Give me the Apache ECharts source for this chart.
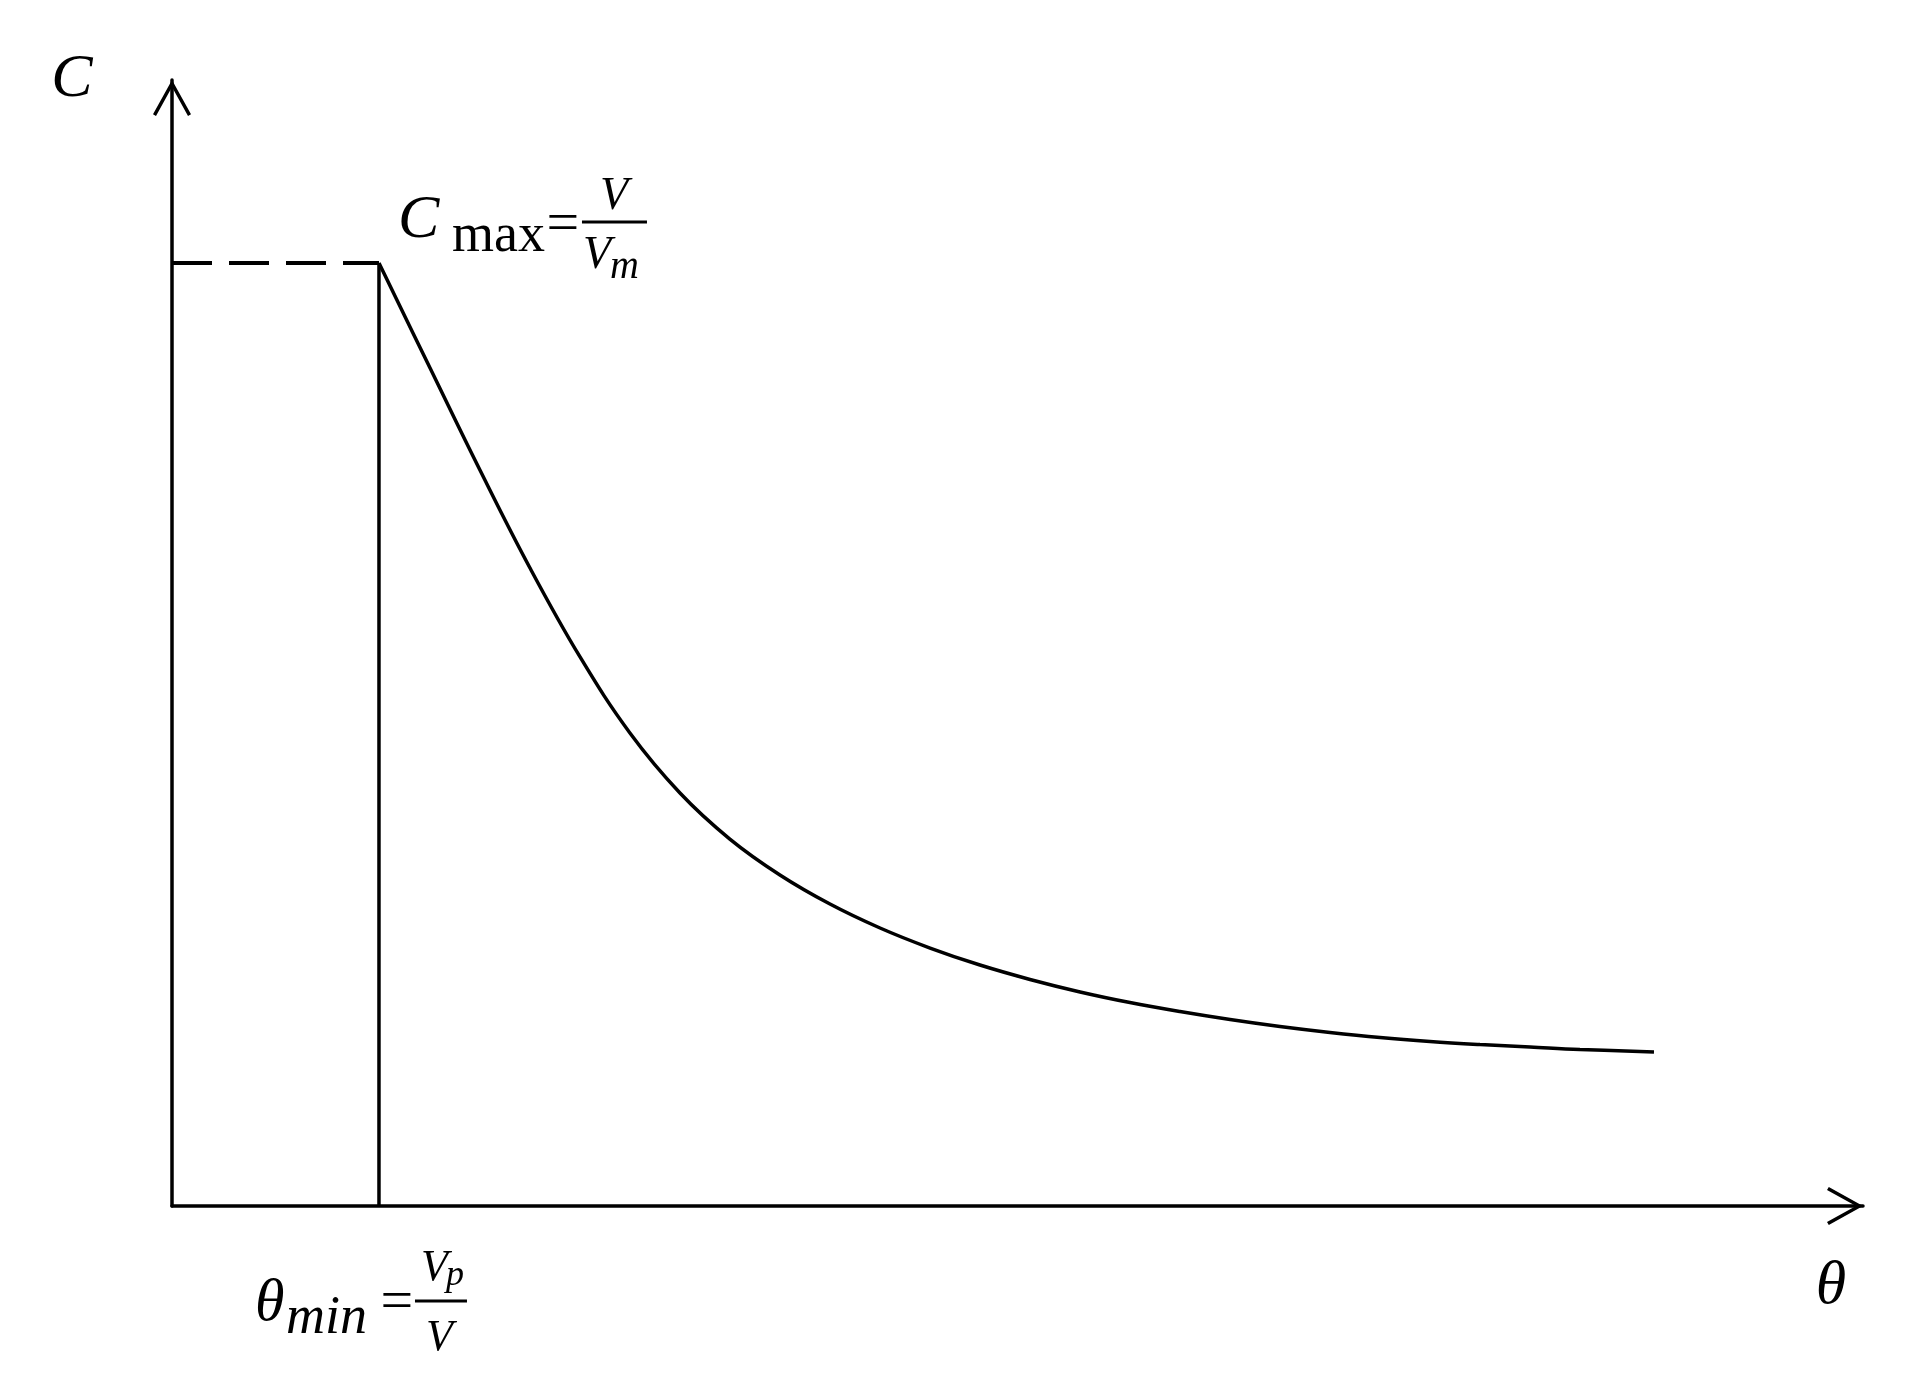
<!DOCTYPE html>
<html>
<head>
<meta charset="utf-8">
<style>
  html, body { margin: 0; padding: 0; background: #ffffff; }
  #chart { width: 1928px; height: 1384px; }
</style>
<script src="https://cdn.jsdelivr.net/npm/echarts@6/dist/echarts.min.js"></script>
</head>
<body>
<div id="chart"></div>
<script>
// ---- data (abstract units: axes run 0..100) ----
const thetaMin = 12.24;   // θmin = Vp / V
const cMax = 83.75;       // Cmax = V / Vm
const curveTheta = [12.24, 15.26, 18.21, 21.17, 24.13, 27.08, 30.04, 32.99, 35.95, 38.91, 41.87, 44.83, 47.78, 50.74, 53.70, 56.65, 59.61, 62.57, 65.52, 68.48, 71.44, 74.39, 77.35, 80.31, 83.26, 87.64];
const curveC     = [83.75, 74.42, 65.36, 56.66, 48.76, 42.01, 36.68, 32.59, 29.40, 26.82, 24.69, 22.91, 21.40, 20.12, 19.01, 18.07, 17.27, 16.56, 15.94, 15.41, 14.96, 14.61, 14.34, 14.12, 13.90, 13.68];
const axisMax = 100;
const yAxisName = 'C';
const xAxisName = 'θ';

const chart = echarts.init(document.getElementById('chart'), null, { renderer: 'canvas' });

const chevron = 'path://M19 0 L38 34.2 L35 36 L19 7 L3 36 L0 34.2 Z';
const axisCommon = {
  type: 'value', min: 0, max: axisMax,
  axisLine: {
    show: true, onZero: false,
    symbol: ['none', chevron], symbolSize: [38, 36], symbolOffset: [0, -18],
    lineStyle: { color: '#000', width: 3.5 }
  },
  axisTick: { show: false }, axisLabel: { show: false }, splitLine: { show: false }
};

chart.setOption({
  animation: false,
  backgroundColor: '#ffffff',
  grid: { left: 172, right: 65, top: 80, bottom: 178, containLabel: false },
  xAxis: Object.assign({}, axisCommon),
  yAxis: Object.assign({}, axisCommon),
  series: [
    {
      type: 'line', name: 'curve', smooth: 0.4, showSymbol: false, symbol: 'none', clip: false,
      lineStyle: { color: '#000', width: 3.5 },
      data: curveTheta.map((t, i) => [t, curveC[i]])
    },
    {
      type: 'line', name: 'thetaMin', showSymbol: false, symbol: 'none', clip: false,
      lineStyle: { color: '#000', width: 3.5 },
      data: [[thetaMin, 0], [thetaMin, cMax]]
    },
    {
      type: 'line', name: 'cMax', showSymbol: false, symbol: 'none', clip: false,
      lineStyle: { color: '#000', width: 4, type: [40, 17] },
      data: [[0, cMax], [thetaMin, cMax]]
    }
  ]
});

// ---- annotations anchored to data points ----
const A = chart.convertToPixel({ gridIndex: 0 }, [thetaMin, cMax]);
const B = chart.convertToPixel({ gridIndex: 0 }, [thetaMin, 0]);
const YE = chart.convertToPixel({ gridIndex: 0 }, [0, axisMax]);
const XE = chart.convertToPixel({ gridIndex: 0 }, [axisMax, 0]);

const SERIF = '"Liberation Serif", "DejaVu Serif", serif';
function txt(anchor, dx, dy, text, size, italic, align) {
  const a = align || 'left';
  return {
    type: 'text', x: anchor[0] + dx, y: anchor[1] + dy, silent: true,
    style: {
      text: text, fill: '#000',
      font: (italic ? 'italic ' : '') + size + 'px ' + SERIF,
      textAlign: a, textVerticalAlign: 'middle', align: a, verticalAlign: 'middle'
    }
  };
}
function bar(anchor, dx1, dx2, dy) {
  return {
    type: 'line', silent: true,
    shape: { x1: anchor[0] + dx1, y1: anchor[1] + dy, x2: anchor[0] + dx2, y2: anchor[1] + dy },
    style: { stroke: '#000', lineWidth: 3 }
  };
}

chart.setOption({
  graphic: [
    // axis names
    txt(YE, -100, 0, yAxisName, 62, true, 'center'),
    txt(XE, -32, 81, xAxisName, 62, true, 'center'),
    // C max = V / Vm
    txt(A, 19, -42, 'C', 62, true),
    txt(A, 73, -26, 'max', 54, false),
    txt(A, 184, -37, '=', 58, false, 'center'),
    bar(A, 203, 268, -41),
    txt(A, 235, -66, 'V', 46, true, 'center'),
    txt(A, 204, -7, 'V', 46, true),
    txt(A, 231, 5, 'm', 40, true),
    // θmin = Vp / V
    txt(B, -124, 98, 'θ', 60, true),
    txt(B, -93, 113, 'min', 54, true),
    txt(B, 18, 98, '=', 58, false, 'center'),
    bar(B, 36, 88, 95),
    txt(B, 42, 62, 'V', 44, true),
    txt(B, 67, 70, 'p', 36, true),
    txt(B, 47, 132, 'V', 44, true)
  ]
});
</script>
</body>
</html>
